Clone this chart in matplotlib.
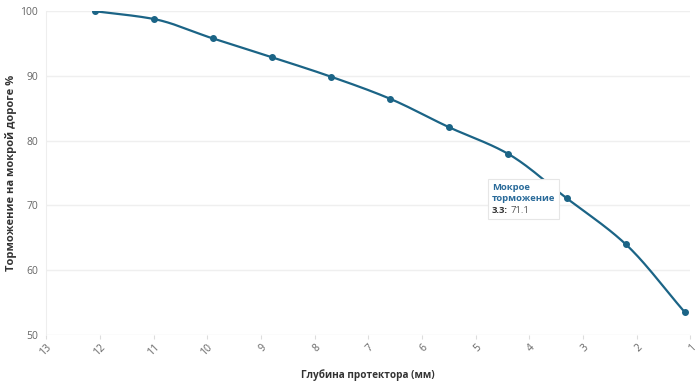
import numpy as np
import matplotlib
matplotlib.use("Agg")
from matplotlib import pyplot as plt
from matplotlib.offsetbox import TextArea, VPacker, HPacker, AnnotationBbox

plt.rcParams['font.family'] = ['Open Sans', 'DejaVu Sans']

# tread depth (mm) and wet braking (%)
depth = [12.1, 11.0, 9.9, 8.8, 7.7, 6.6, 5.5, 4.4, 3.3, 2.2, 1.1]
braking = [100, 98.8, 95.8, 92.9, 89.9, 86.5, 82.1, 78.0, 71.1, 64.0, 53.5]
x_ticks = list(range(1, 14))
y_ticks = [50, 60, 70, 80, 90, 100]

line_color = "#1b6486"


def monotone_curve(x, y, n=30):
    # Fritsch-Carlson monotone cubic, only for drawing a smooth line
    x = np.asarray(x, float)
    y = np.asarray(y, float)
    h = np.diff(x)
    d = np.diff(y) / h
    m = np.zeros_like(y)
    m[0], m[-1] = d[0], d[-1]
    for i in range(1, len(x) - 1):
        if d[i - 1] * d[i] <= 0:
            m[i] = 0
        else:
            w1 = 2 * h[i] + h[i - 1]
            w2 = h[i] + 2 * h[i - 1]
            m[i] = (w1 + w2) / (w1 / d[i - 1] + w2 / d[i])
    xs, ys = [], []
    for i in range(len(x) - 1):
        t = np.linspace(0, 1, n)
        h00 = 2 * t**3 - 3 * t**2 + 1
        h10 = t**3 - 2 * t**2 + t
        h01 = -2 * t**3 + 3 * t**2
        h11 = t**3 - t**2
        xs.append(x[i] + t * h[i])
        ys.append(h00 * y[i] + h10 * h[i] * m[i] + h01 * y[i + 1] + h11 * h[i] * m[i + 1])
    return np.concatenate(xs), np.concatenate(ys)


fig = plt.figure(figsize=(7, 3.85), dpi=100)
ax = fig.add_axes([0.066, 0.130, 0.920, 0.841])

xs, ys = monotone_curve(depth[::-1], braking[::-1])
ax.plot(xs, ys, color=line_color, lw=1.6, zorder=3)
ax.plot(depth, braking, "o", color=line_color, ms=4, zorder=4)

ax.set_xlim(13, 1)
ax.set_ylim(50, 100)
ax.set_xticks(x_ticks)
ax.set_yticks(y_ticks)
ax.grid(axis="y", color="#efefef", lw=1)
ax.set_axisbelow(True)
for s in ["top", "right", "bottom"]:
    ax.spines[s].set_visible(False)
ax.spines["left"].set_color("#eeeeee")
ax.tick_params(axis="y", length=0, labelsize=7.5, labelcolor="#666666", pad=6)
ax.tick_params(axis="x", length=3, color="#dddddd", labelsize=7.5, labelcolor="#666666", pad=2)
for lbl in ax.get_xticklabels():
    lbl.set_rotation(45)
    lbl.set_ha("right")
    lbl.set_va("top")
    lbl.set_rotation_mode("anchor")

ax.set_xlabel("Глубина протектора (мм)", fontsize=7.2, fontweight="bold", color="#333333", labelpad=8)
ax.set_ylabel("Торможение на мокрой дороге %", fontsize=8, fontweight="bold", color="#333333")
ax.yaxis.set_label_coords(-0.046, 0.5)

# tooltip
title = TextArea("Мокрое\nторможение", textprops=dict(color="#2a6b9a", fontsize=6.8, fontweight="bold", linespacing=1.3))
val = HPacker(children=[TextArea("3.3:", textprops=dict(color="#333333", fontsize=6.8, fontweight="bold")),
                        TextArea("71.1", textprops=dict(color="#555555", fontsize=6.8))],
              pad=0, sep=2)
box = VPacker(children=[title, val], pad=0, sep=2, align="left")
ab = AnnotationBbox(box, (3.3, 71.1), xybox=(-75, 15), boxcoords="offset pixels",
                    box_alignment=(0, 1), frameon=True, pad=0.3,
                    bboxprops=dict(facecolor="white", edgecolor="#e6e6e6", lw=0.8, boxstyle="square,pad=0.3"))
ab.set_zorder(5)
ax.add_artist(ab)

plt.savefig("out.png", dpi=100)
